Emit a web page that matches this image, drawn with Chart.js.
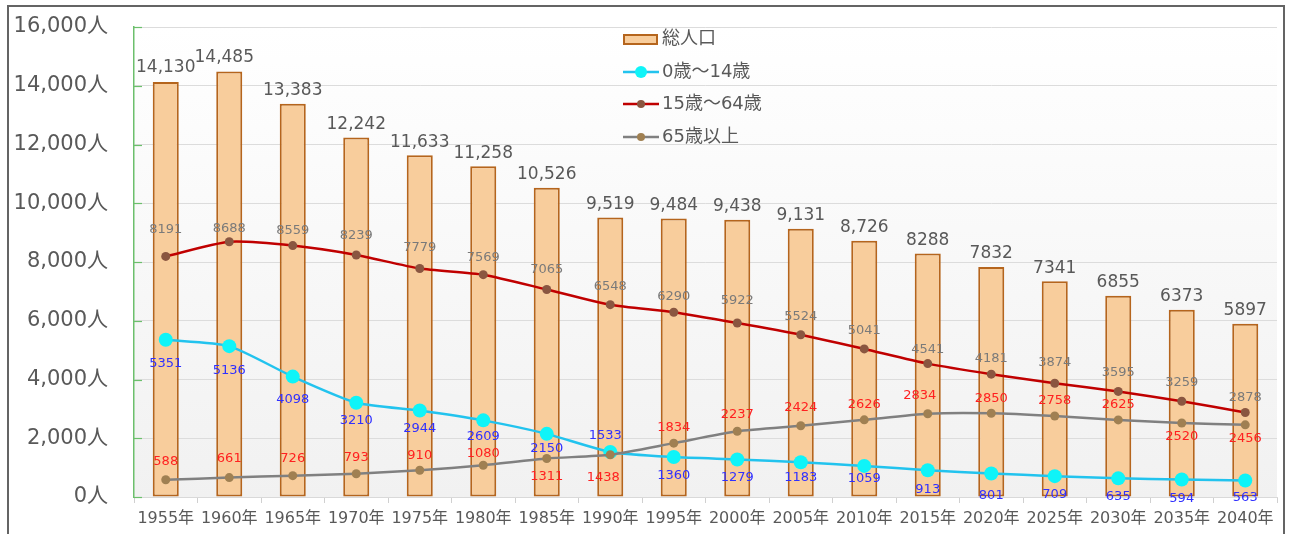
<!DOCTYPE html>
<html>
<head>
<meta charset="utf-8">
<script src="https://cdn.jsdelivr.net/npm/chart.js@4/dist/chart.umd.min.js"></script>
<style>
  body { margin: 0; background: #fff; overflow: hidden; }
  #wrap { position: relative; width: 1290px; height: 534px; }
  #chart { position: absolute; left: 0; top: 0; }
  #frame { position: absolute; left: 7px; top: 5px; width: 1278px; height: 600px;
           border: 2px solid #646464; box-sizing: border-box; pointer-events: none; }
</style>
</head>
<body>
<div id="wrap">
  <canvas id="chart" width="1290" height="534"></canvas>
  <div id="frame"></div>
</div>
<script>
// data
var years = ['1955年','1960年','1965年','1970年','1975年','1980年','1985年','1990年','1995年',
             '2000年','2005年','2010年','2015年','2020年','2025年','2030年','2035年','2040年'];
var totalPop  = [14130,14485,13383,12242,11633,11258,10526,9519,9484,9438,9131,8726,8288,7832,7341,6855,6373,5897];
var age0to14  = [5351,5136,4098,3210,2944,2609,2150,1533,1360,1279,1183,1059,913,801,709,635,594,563];
var age15to64 = [8191,8688,8559,8239,7779,7569,7065,6548,6290,5922,5524,5041,4541,4181,3874,3595,3259,2878];
var age65plus = [588,661,726,793,910,1080,1311,1438,1834,2237,2424,2626,2834,2850,2758,2625,2520,2456];
var seriesNames = ['総人口','0歳～14歳','15歳～64歳','65歳以上'];
var yMax = 16000, yStep = 2000;

var fontMain = '"DejaVu Sans", "Noto Sans CJK JP", sans-serif';
var grayText = '#595959';

// plot background: white fading to light gray
var bgPlugin = {
    id: 'plotBg',
    beforeDraw: function (chart) {
        var a = chart.chartArea, ctx = chart.ctx;
        var g = ctx.createLinearGradient(0, a.top, 0, a.bottom);
        g.addColorStop(0, '#FFFFFF');
        g.addColorStop(1, '#F1F1F1');
        ctx.save();
        ctx.fillStyle = g;
        ctx.fillRect(a.left, a.top, a.right - a.left, a.bottom - a.top);
        ctx.restore();
    },
    afterDraw: function (chart) {
        // short green ticks on the inside of the y axis
        var a = chart.chartArea, ctx = chart.ctx, y = chart.scales.y;
        ctx.save();
        ctx.strokeStyle = '#6CBF6C';
        ctx.lineWidth = 1.2;
        y.ticks.forEach(function (t) {
            var py = Math.round(y.getPixelForValue(t.value)) + 0.5;
            ctx.beginPath();
            ctx.moveTo(a.left, py);
            ctx.lineTo(a.left + 8, py);
            ctx.stroke();
        });
        ctx.restore();
    }
};

// value labels beside each mark
var labelPlugin = {
    id: 'valueLabels',
    afterDatasetsDraw: function (chart, args, opts) {
        var ctx = chart.ctx;
        opts.sets.forEach(function (s) {
            var meta = chart.getDatasetMeta(s.index);
            var data = chart.data.datasets[s.index].data;
            ctx.save();
            ctx.font = s.font;
            ctx.fillStyle = s.color;
            ctx.textAlign = 'center';
            ctx.textBaseline = 'middle';
            meta.data.forEach(function (el, i) {
                var text = s.format ? s.format(data[i], i) : String(data[i]);
                var dx = (s.dx && s.dx[i]) || 0;
                ctx.fillText(text, el.x + dx, el.y + s.dy[i]);
            });
            ctx.restore();
        });
    }
};

// legend drawn inside the plot, like the original
var legendPlugin = {
    id: 'innerLegend',
    afterDraw: function (chart) {
        var ctx = chart.ctx;
        var x0 = 623, rows = [39, 72, 104, 137];
        ctx.save();
        ctx.font = '18px ' + fontMain;
        ctx.textBaseline = 'middle';
        ctx.textAlign = 'left';
        chart.data.datasets.forEach(function (ds, k) {
            var y = rows[k];
            if (ds.type === 'bar') {
                ctx.fillStyle = ds.backgroundColor;
                ctx.fillRect(x0, y - 5, 35, 11);
                ctx.strokeStyle = ds.borderColor;
                ctx.lineWidth = 2;
                ctx.strokeRect(x0 + 1, y - 4, 33, 9);
            } else {
                ctx.strokeStyle = ds.borderColor;
                ctx.lineWidth = 2.5;
                ctx.beginPath();
                ctx.moveTo(x0, y);
                ctx.lineTo(x0 + 36, y);
                ctx.stroke();
                ctx.fillStyle = ds.pointBackgroundColor;
                ctx.beginPath();
                ctx.arc(x0 + 18, y, k === 1 ? 6 : 4, 0, Math.PI * 2);
                ctx.fill();
            }
            ctx.fillStyle = grayText;
            ctx.fillText(ds.label, x0 + 39, y);
        });
        ctx.restore();
    }
};

var ctx = document.getElementById('chart').getContext('2d');
var chart = new Chart(ctx, {
    data: {
        labels: years,
        datasets: [
            {
                type: 'bar', label: seriesNames[0], data: totalPop, order: 10,
                backgroundColor: '#F8CD9C', borderColor: '#B5651D', borderWidth: 2,
                borderSkipped: false, barPercentage: 0.41, categoryPercentage: 1
            },
            {
                type: 'line', label: seriesNames[1], data: age0to14, order: 3,
                borderColor: '#22C3EE', borderWidth: 2.5, tension: 0.2,
                pointRadius: 7, pointBackgroundColor: '#0FF4F8', pointBorderColor: '#0FF4F8', pointBorderWidth: 0
            },
            {
                type: 'line', label: seriesNames[2], data: age15to64, order: 2,
                borderColor: '#C00000', borderWidth: 2.5, tension: 0.2,
                pointRadius: 4.5, pointBackgroundColor: '#8A5640', pointBorderColor: '#8A5640', pointBorderWidth: 0
            },
            {
                type: 'line', label: seriesNames[3], data: age65plus, order: 1,
                borderColor: '#808080', borderWidth: 2.5, tension: 0.2,
                pointRadius: 4.5, pointBackgroundColor: '#A08052', pointBorderColor: '#A08052', pointBorderWidth: 0
            }
        ]
    },
    options: {
        responsive: false,
        animation: false,
        layout: { padding: { left: 0, right: 13, top: 27, bottom: 0 } },
        plugins: {
            legend: { display: false },
            tooltip: { enabled: false },
            valueLabels: {
                sets: [
                    { index: 0, font: '17px ' + fontMain, color: grayText,
                      dy: [-14,-14,-13,-13,-13,-13,-13,-13,-13,-13,-13,-13,-13,-13,-13,-13,-13,-13],
                      dx: [0,-5],
                      format: function (v, i) { return i < 12 ? v.toLocaleString('en-US') : String(v); } },
                    { index: 1, font: '13px ' + fontMain, color: '#3030FF',
                      dy: [24,24,23,18,18,16,15,-16,19,18,15,13,19,22,18,18,19,17],
                      dx: [0,0,0,0,0,0,0,-5] },
                    { index: 2, font: '13px ' + fontMain, color: '#7A7A7A',
                      dy: [-27,-13,-15,-19,-21,-17,-20,-18,-16,-22,-18,-18,-14,-16,-21,-19,-19,-15] },
                    { index: 3, font: '13px ' + fontMain, color: '#FF2020',
                      dy: [-18,-19,-17,-16,-15,-12,18,23,-16,-17,-18,-15,-18,-15,-15,-15,14,14],
                      dx: [0,0,0,0,0,0,0,-7,0,0,0,0,-8] }
                ]
            }
        },
        scales: {
            x: {
                offset: true,
                afterFit: function (s) { s.height = 37; },
                grid: { display: true, drawOnChartArea: false, offset: true, tickLength: 6, color: '#D0D0D0' },
                border: { display: true, color: '#D9D9D9' },
                ticks: { color: grayText, font: { size: 16, family: fontMain }, padding: 6, maxRotation: 0, autoSkip: false }
            },
            y: {
                min: 0, max: yMax,
                afterFit: function (s) { s.width = 134; },
                // invisible long ticks push the labels away from the axis
                grid: { color: '#DCDCDC', lineWidth: 1, drawTicks: true, tickLength: 24, tickColor: 'rgba(0,0,0,0)' },
                border: { display: true, color: '#6CBF6C', width: 1.5 },
                ticks: {
                    stepSize: yStep, padding: 2, color: grayText,
                    font: { size: 21, family: fontMain },
                    callback: function (v) { return v.toLocaleString('en-US') + '人'; }
                }
            }
        }
    },
    plugins: [bgPlugin, labelPlugin, legendPlugin]
});
</script>
</body>
</html>
